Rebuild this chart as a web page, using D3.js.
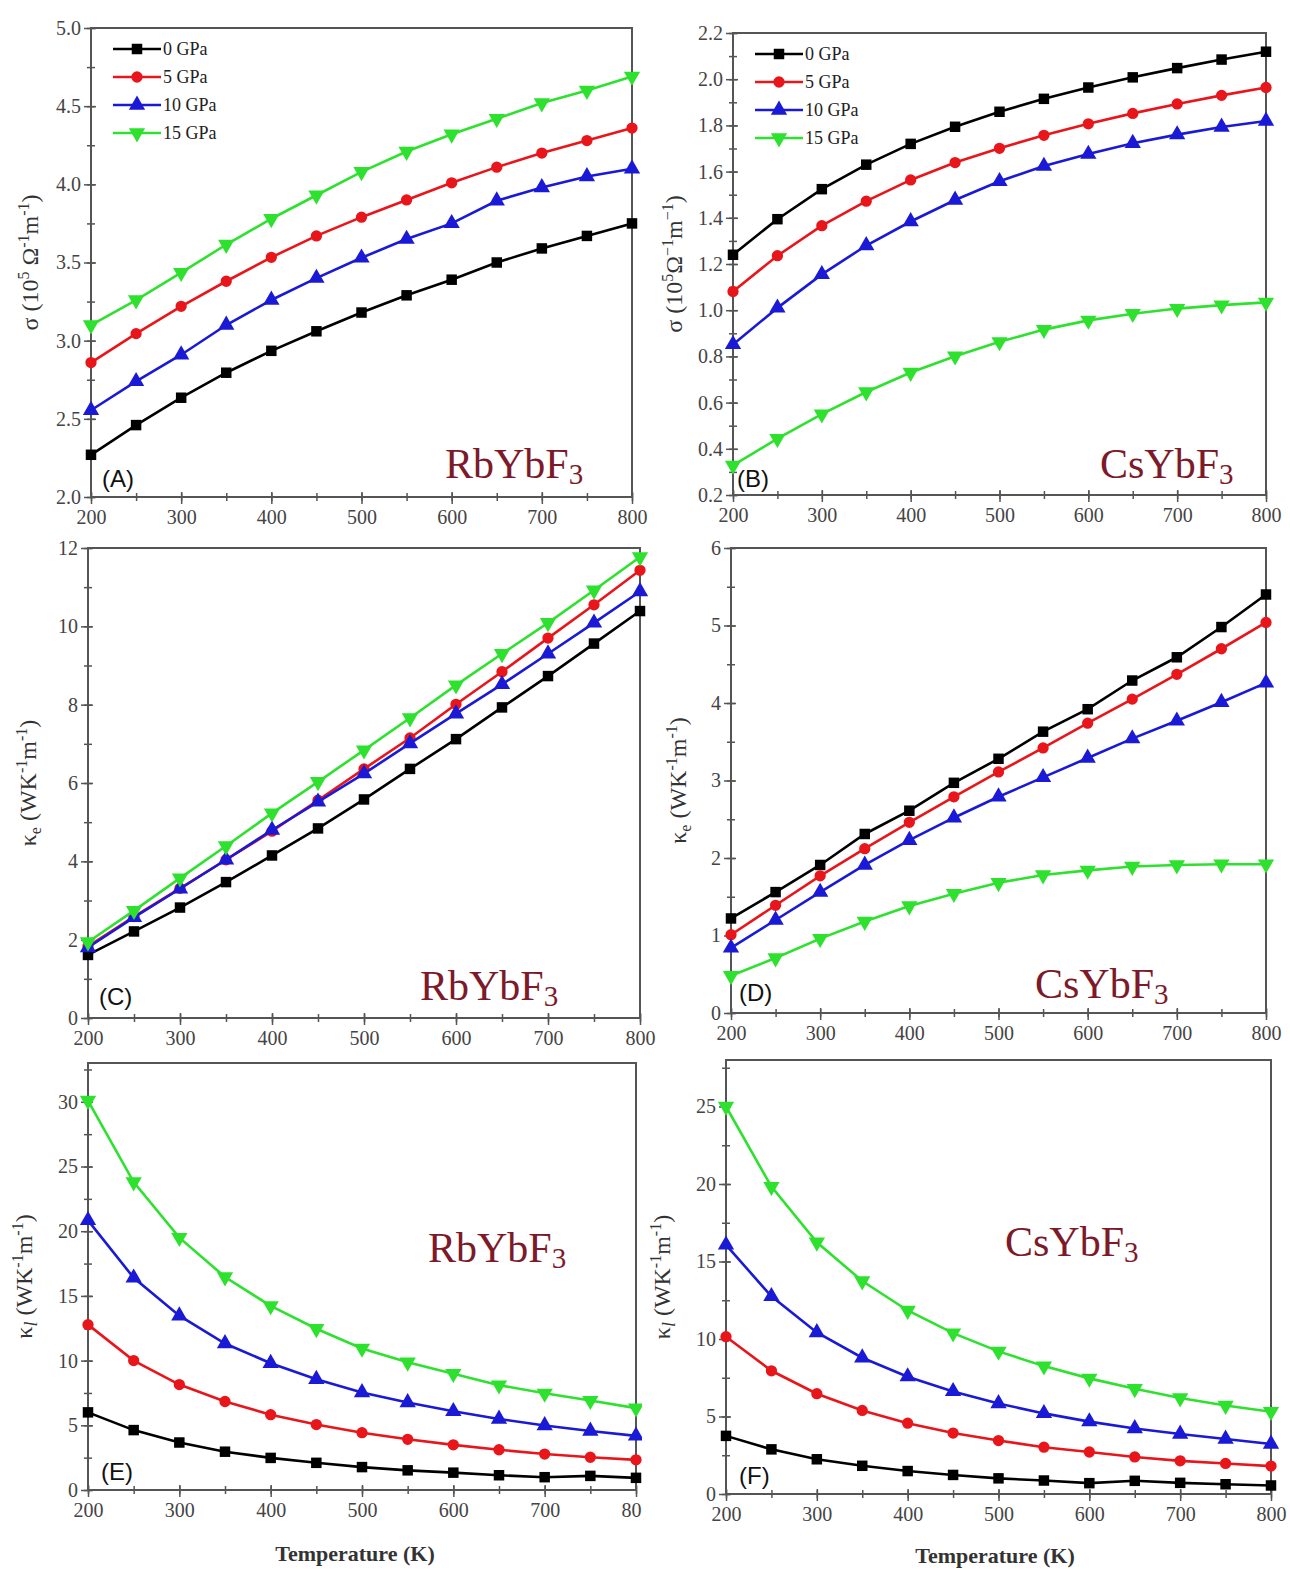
<!DOCTYPE html>
<html>
<head>
<meta charset="utf-8">
<script src="https://cdn.jsdelivr.net/npm/d3@7"></script>
<style>
  body { margin: 0; background: #fff; }
  svg { display: block; }
  .tick text { font-family: "Liberation Serif", serif; font-size: 20px; fill: #444; }
</style>
</head>
<body>
<svg id="chart"></svg>
<script>
let width = 1290;
let height = 1570;

let temps = [200, 250, 300, 350, 400, 450, 500, 550, 600, 650, 700, 750, 800];
let pressures = ["0 GPa", "5 GPa", "10 GPa", "15 GPa"];
let colours = ["#000000", "#e8161b", "#1a1ad6", "#2fe12f"];

// (A) sigma, RbYbF3
let sigmaRb = [
  [2.27, 2.46, 2.635, 2.795, 2.935, 3.06, 3.18, 3.29, 3.39, 3.50, 3.59, 3.67, 3.75],
  [2.86, 3.045, 3.22, 3.38, 3.533, 3.67, 3.79, 3.90, 4.01, 4.11, 4.20, 4.28, 4.36],
  [2.555, 2.74, 2.91, 3.10, 3.26, 3.40, 3.53, 3.65, 3.75, 3.895, 3.98, 4.05, 4.10],
  [3.10, 3.26, 3.435, 3.615, 3.78, 3.93, 4.08, 4.21, 4.32, 4.42, 4.52, 4.60, 4.69]
];
// (B) sigma, CsYbF3
let sigmaCs = [
  [1.24, 1.394, 1.524, 1.63, 1.72, 1.794, 1.859, 1.915, 1.964, 2.008, 2.048, 2.085, 2.119],
  [1.081, 1.236, 1.366, 1.472, 1.564, 1.639, 1.701, 1.757, 1.807, 1.852, 1.893, 1.930, 1.964],
  [0.852, 1.010, 1.155, 1.28, 1.384, 1.477, 1.558, 1.624, 1.676, 1.723, 1.760, 1.793, 1.819],
  [0.328, 0.444, 0.55, 0.646, 0.73, 0.801, 0.863, 0.916, 0.956, 0.985, 1.007, 1.022, 1.034]
];
// (C) kappa_e, RbYbF3
let kappaERb = [
  [1.61, 2.21, 2.82, 3.47, 4.15, 4.84, 5.58, 6.36, 7.12, 7.93, 8.73, 9.56, 10.39],
  [1.83, 2.59, 3.31, 4.04, 4.77, 5.56, 6.36, 7.15, 8.01, 8.84, 9.70, 10.55, 11.43],
  [1.80, 2.57, 3.30, 4.04, 4.80, 5.52, 6.24, 7.01, 7.77, 8.52, 9.30, 10.09, 10.89],
  [1.94, 2.74, 3.57, 4.39, 5.23, 6.03, 6.84, 7.66, 8.50, 9.30, 10.09, 10.92, 11.77]
];
// (D) kappa_e, CsYbF3
let kappaECs = [
  [1.22, 1.56, 1.91, 2.31, 2.61, 2.97, 3.28, 3.63, 3.92, 4.29, 4.59, 4.98, 5.40],
  [1.01, 1.39, 1.77, 2.12, 2.46, 2.79, 3.11, 3.42, 3.74, 4.05, 4.37, 4.70, 5.04],
  [0.84, 1.20, 1.56, 1.91, 2.23, 2.52, 2.79, 3.04, 3.29, 3.54, 3.77, 4.01, 4.26],
  [0.48, 0.71, 0.96, 1.18, 1.38, 1.54, 1.68, 1.78, 1.84, 1.89, 1.91, 1.92, 1.92]
];
// (E) kappa_l, RbYbF3
let kappaLRb = [
  [6.0, 4.63, 3.67, 2.96, 2.48, 2.10, 1.77, 1.52, 1.34, 1.14, 0.99, 1.09, 0.94],
  [12.78, 10.0, 8.15, 6.84, 5.82, 5.06, 4.43, 3.92, 3.49, 3.11, 2.78, 2.53, 2.33],
  [20.84, 16.4, 13.47, 11.32, 9.80, 8.56, 7.54, 6.76, 6.08, 5.49, 4.99, 4.56, 4.18],
  [30.1, 23.8, 19.5, 16.46, 14.23, 12.46, 10.94, 9.87, 8.99, 8.10, 7.47, 6.91, 6.33]
];
// (F) kappa_l, CsYbF3
let kappaLCs = [
  [3.75, 2.88, 2.24, 1.82, 1.48, 1.23, 1.01, 0.87, 0.70, 0.85, 0.72, 0.63, 0.55],
  [10.15, 7.95, 6.47, 5.39, 4.57, 3.93, 3.45, 3.02, 2.71, 2.39, 2.14, 1.97, 1.80],
  [16.07, 12.75, 10.42, 8.79, 7.57, 6.62, 5.84, 5.20, 4.67, 4.23, 3.87, 3.55, 3.23],
  [25.0, 19.83, 16.24, 13.74, 11.84, 10.38, 9.20, 8.25, 7.46, 6.79, 6.19, 5.71, 5.31]
];

let panels = [
  {letter: "(A)", data: sigmaRb, compound: "RbYbF", left: 91, right: 632, top: 28, bottom: 497,
   yDomain: [2, 5], yMajor: 0.5, yMinor: 0.25, fmt: ".1f", ylabel: "sigmaA", ylx: 38, legend: true,
   cx: 445, cy: 478, lx: 102, ly: 487},
  {letter: "(B)", data: sigmaCs, compound: "CsYbF", left: 733, right: 1266, top: 33, bottom: 495,
   yDomain: [0.2, 2.2], yMajor: 0.2, yMinor: 0.1, fmt: ".1f", ylabel: "sigmaB", ylx: 682, legend: true,
   cx: 1100, cy: 478, lx: 737, ly: 487},
  {letter: "(C)", data: kappaERb, compound: "RbYbF", left: 88, right: 640, top: 548, bottom: 1018,
   yDomain: [0, 12], yMajor: 2, yMinor: 1, fmt: "d", ylabel: "ke", ylx: 36, legend: false,
   cx: 420, cy: 1000, lx: 99, ly: 1005},
  {letter: "(D)", data: kappaECs, compound: "CsYbF", left: 731, right: 1266, top: 548, bottom: 1013,
   yDomain: [0, 6], yMajor: 1, yMinor: 0.5, fmt: "d", ylabel: "ke", ylx: 686, legend: false,
   cx: 1035, cy: 998, lx: 739, ly: 1001},
  {letter: "(E)", data: kappaLRb, compound: "RbYbF", left: 88, right: 636, top: 1063, bottom: 1490,
   yDomain: [0, 33], yMajor: 5, yMinor: 2.5, fmt: "d", ylabel: "kl", ylx: 32, legend: false,
   cx: 428, cy: 1262, lx: 101, ly: 1480, clip: 642},
  {letter: "(F)", data: kappaLCs, compound: "CsYbF", left: 726, right: 1271, top: 1060, bottom: 1494,
   yDomain: [0, 28], yMajor: 5, yMinor: 2.5, fmt: "d", ylabel: "kl", ylx: 670, legend: false,
   cx: 1005, cy: 1256, lx: 739, ly: 1484}
];

let symbols = [d3.symbolSquare, d3.symbolCircle, d3.symbolTriangle, d3.symbolTriangle];
let symbolSizes = [110, 100, 115, 115];

let svg = d3.select("#chart")
  .attr("width", width)
  .attr("height", height)
  .style("background-color", "#fff");

let defs = svg.append("defs");
defs.append("clipPath").attr("id", "clipE")
  .append("rect").attr("x", 0).attr("y", 0).attr("width", 642).attr("height", height);

function yLabel(g, kind, x, y) {
  let t = g.append("text")
    .attr("transform", "translate(" + x + "," + y + ") rotate(-90)")
    .attr("text-anchor", "middle")
    .style("font-family", "Liberation Serif, serif")
    .style("font-size", "24px")
    .style("fill", "#333");
  let sup = (txt) => t.append("tspan").attr("dy", -9).style("font-size", "16px").text(txt);
  let back = () => t.append("tspan").attr("dy", 9);
  if (kind === "sigmaA" || kind === "sigmaB") {
    t.append("tspan").text("σ (10");
    sup("5");
    back().text(kind === "sigmaA" ? " Ω" : "Ω");
    sup(kind === "sigmaA" ? "-1" : "−1");
    back().text("m");
    sup(kind === "sigmaA" ? "-1" : "−1");
    back().text(")");
  } else {
    t.append("tspan").text("κ");
    if (kind === "ke") {
      t.append("tspan").attr("dy", 5).style("font-size", "16px").text("e");
    } else {
      t.append("tspan").attr("dy", 5).style("font-size", "18px").style("font-style", "italic").text("l");
    }
    t.append("tspan").attr("dy", -5).text(" (WK");
    sup("-1");
    back().text("m");
    sup("-1");
    back().text(")");
  }
}

function styleTicks(sel) {
  sel.select(".domain").remove();
  sel.selectAll("line").attr("stroke", "#555").attr("stroke-width", 1.5);
}

panels.forEach((p) => {
  let g = svg.append("g");
  if (p.clip) g.attr("clip-path", "url(#clipE)");

  let x = d3.scaleLinear().domain([200, 800]).range([p.left, p.right]);
  let y = d3.scaleLinear().domain(p.yDomain).range([p.bottom, p.top]);

  let xMinor = d3.range(200, 801, 50);
  let yMinor = d3.range(p.yDomain[0], p.yDomain[1] + 1e-9, p.yMinor);
  let yMajor = d3.range(p.yDomain[0], p.yDomain[1] + 1e-9, p.yMajor)
    .map(v => Math.round(v * 100) / 100);
  if (p.letter === "(E)") yMajor = [0, 5, 10, 15, 20, 25, 30];

  // minor ticks, crossing the axis
  [4, -4].forEach(sz => {
    g.append("g")
      .attr("transform", "translate(0," + p.bottom + ")")
      .call(d3.axisBottom(x).tickValues(xMinor).tickSize(sz).tickFormat(""))
      .call(styleTicks);
    g.append("g")
      .attr("transform", "translate(" + p.left + ",0)")
      .call(d3.axisLeft(y).tickValues(yMinor).tickSize(sz).tickFormat(""))
      .call(styleTicks);
  });

  // major ticks and labels
  g.append("g")
    .attr("transform", "translate(0," + p.bottom + ")")
    .call(d3.axisBottom(x).tickValues(d3.range(200, 801, 100)).tickSize(-5).tickFormat(""))
    .call(styleTicks);
  g.append("g")
    .attr("transform", "translate(0," + p.bottom + ")")
    .call(d3.axisBottom(x).tickValues(d3.range(200, 801, 100)).tickSize(7).tickPadding(6).tickFormat(d3.format("d")))
    .call(styleTicks);

  g.append("g")
    .attr("transform", "translate(" + p.left + ",0)")
    .call(d3.axisLeft(y).tickValues(yMajor).tickSize(-5).tickFormat(""))
    .call(styleTicks);
  g.append("g")
    .attr("transform", "translate(" + p.left + ",0)")
    .call(d3.axisLeft(y).tickValues(yMajor).tickSize(7).tickPadding(3).tickFormat(d3.format(p.fmt)))
    .call(styleTicks);

  // frame
  g.append("rect")
    .attr("x", p.left)
    .attr("y", p.top)
    .attr("width", p.right - p.left)
    .attr("height", p.bottom - p.top)
    .attr("fill", "none")
    .attr("stroke", "#555")
    .attr("stroke-width", 2);

  // series
  let line = d3.line().x((d, i) => x(temps[i])).y(d => y(d));
  p.data.forEach((series, s) => {
    g.append("path")
      .datum(series)
      .attr("d", line)
      .attr("fill", "none")
      .attr("stroke", colours[s])
      .attr("stroke-width", 2.6);

    g.selectAll(".m" + s)
      .data(series)
      .enter()
      .append("path")
        .attr("class", "m" + s)
        .attr("d", d3.symbol().type(symbols[s]).size(symbolSizes[s]))
        .attr("transform", (d, i) => "translate(" + x(temps[i]) + "," + y(d) + ")" + (s === 3 ? " rotate(180)" : ""))
        .attr("fill", colours[s]);
  });

  // compound label
  let c = g.append("text")
    .attr("x", p.cx)
    .attr("y", p.cy)
    .style("font-family", "Liberation Serif, serif")
    .style("font-size", "42px")
    .style("fill", "#7d1a2a");
  c.append("tspan").text(p.compound);
  c.append("tspan").attr("dy", 6).style("font-size", "29px").text("3");

  // panel letter
  g.append("text")
    .attr("x", p.lx)
    .attr("y", p.ly)
    .style("font-family", "Liberation Sans, Arial, sans-serif")
    .style("font-size", "24px")
    .style("fill", "#111")
    .text(p.letter);

  yLabel(g, p.ylabel, p.ylx, (p.top + p.bottom) / 2);

  // legend
  if (p.legend) {
    let lg = g.append("g")
      .attr("transform", "translate(" + (p.left + 22) + "," + (p.top + 21) + ")");
    pressures.forEach((name, s) => {
      let row = lg.append("g").attr("transform", "translate(0," + (s * 28) + ")");
      row.append("line")
        .attr("x1", 0).attr("x2", 48)
        .attr("y1", 0).attr("y2", 0)
        .attr("stroke", colours[s])
        .attr("stroke-width", 2.6);
      row.append("path")
        .attr("d", d3.symbol().type(symbols[s]).size(symbolSizes[s]))
        .attr("transform", "translate(24,0)" + (s === 3 ? " rotate(180)" : ""))
        .attr("fill", colours[s]);
      row.append("text")
        .attr("x", 50)
        .attr("y", 6)
        .style("font-family", "Liberation Serif, serif")
        .style("font-size", "18px")
        .style("fill", "#222")
        .text(name);
    });
  }
});

// x axis titles
[{x: 355, y: 1561}, {x: 995, y: 1563}].forEach(t => {
  svg.append("text")
    .attr("x", t.x)
    .attr("y", t.y)
    .attr("text-anchor", "middle")
    .style("font-family", "Liberation Serif, serif")
    .style("font-size", "22px")
    .style("font-weight", "bold")
    .style("fill", "#333")
    .text("Temperature (K)");
});
</script>
</body>
</html>
